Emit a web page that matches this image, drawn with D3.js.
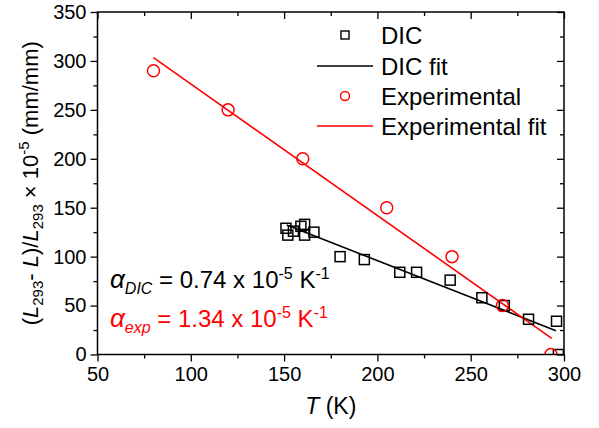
<!DOCTYPE html>
<html><head><meta charset="utf-8">
<script src="https://cdn.jsdelivr.net/npm/d3@7"></script>
<style>body{margin:0;background:#fff}svg{display:block;font-family:Arial,"Liberation Sans",sans-serif}</style>
</head><body><svg id="c" width="599" height="428"></svg>
<script>
// Data
const dicT = [151, 152, 155, 159, 161, 161, 166, 180, 193, 212, 221, 239, 256, 268, 281, 296, 297];
const dicY = [129, 122, 126, 131, 133, 122, 125, 100, 97, 84, 84, 76, 58, 50, 36, 34, 0];
const expT = [80, 120, 160, 205, 240, 267, 293];
const expY = [290, 250, 200, 150, 100, 50, 0];
const dicFitT = [151.4, 295.7];
const dicFitY = [132.3, 24.3];
const expFitT = [80, 293.4];
const expFitY = [303.3, 16.5];
const xTicks = [50, 100, 150, 200, 250, 300];
const yTicks = [0, 50, 100, 150, 200, 250, 300, 350];
const legendLabels = ["DIC", "DIC fit", "Experimental", "Experimental fit"];

const svg = d3.select("#c");
const L = 97.5, R = 564, T = 12, B = 354.5;
const x = d3.scaleLinear().domain([50, 300]).range([L, R]);
const y = d3.scaleLinear().domain([0, 350]).range([B, T]);
const RED = "#ff0000";

// clip
svg.append("defs").append("clipPath").attr("id", "pc")
  .append("rect").attr("x", L).attr("y", T).attr("width", R - L).attr("height", B - T);

const minorX = d3.range(75, 300, 50), minorY = d3.range(25, 350, 50);
function styleAxis(g) {
  g.select(".domain").remove();
  g.selectAll("line").attr("stroke", "#000").attr("stroke-width", 1.3);
  g.selectAll("text").attr("font-size", 20).attr("fill", "#000").attr("font-family", "Arial, 'Liberation Sans', sans-serif");
}
// bottom
svg.append("g").attr("transform", `translate(0,${B})`)
  .call(d3.axisBottom(x).tickValues(xTicks).tickSize(7).tickPadding(5).tickFormat(d3.format("d"))).call(styleAxis);
svg.append("g").attr("transform", `translate(0,${B})`)
  .call(d3.axisBottom(x).tickValues(minorX).tickSize(4).tickFormat("")).call(styleAxis);
// left
svg.append("g").attr("transform", `translate(${L},0)`)
  .call(d3.axisLeft(y).tickValues(yTicks).tickSize(7).tickPadding(4).tickFormat(d3.format("d"))).call(styleAxis);
svg.append("g").attr("transform", `translate(${L},0)`)
  .call(d3.axisLeft(y).tickValues(minorY).tickSize(4).tickFormat("")).call(styleAxis);
// top (inward)
svg.append("g").attr("transform", `translate(0,${T})`)
  .call(d3.axisTop(x).tickValues(xTicks).tickSize(-7).tickFormat("")).call(styleAxis);
svg.append("g").attr("transform", `translate(0,${T})`)
  .call(d3.axisTop(x).tickValues(minorX).tickSize(-4).tickFormat("")).call(styleAxis);
// right (inward)
svg.append("g").attr("transform", `translate(${R},0)`)
  .call(d3.axisRight(y).tickValues(yTicks).tickSize(-7).tickFormat("")).call(styleAxis);
svg.append("g").attr("transform", `translate(${R},0)`)
  .call(d3.axisRight(y).tickValues(minorY).tickSize(-4).tickFormat("")).call(styleAxis);

const plot = svg.append("g").attr("clip-path", "url(#pc)");
const line = d3.line().x(d => x(d[0])).y(d => y(d[1]));
plot.append("path").datum(dicFitT.map((t, i) => [t, dicFitY[i]]))
  .attr("d", line).attr("fill", "none").attr("stroke", "#000").attr("stroke-width", 1.6);
plot.append("path").datum(expFitT.map((t, i) => [t, expFitY[i]]))
  .attr("d", line).attr("fill", "none").attr("stroke", RED).attr("stroke-width", 1.6);
const S = 10;
plot.selectAll("rect.dic").data(dicT.map((t, i) => [t, dicY[i]])).join("rect")
  .attr("x", d => x(d[0]) - S / 2).attr("y", d => y(d[1]) - S / 2).attr("width", S).attr("height", S)
  .attr("fill", "none").attr("stroke", "#000").attr("stroke-width", 1.5);
plot.selectAll("circle.exp").data(expT.map((t, i) => [t, expY[i]])).join("circle")
  .attr("cx", d => x(d[0])).attr("cy", d => y(d[1])).attr("r", 6)
  .attr("fill", "none").attr("stroke", RED).attr("stroke-width", 1.5);

// frame
svg.append("rect").attr("x", L).attr("y", T).attr("width", R - L).attr("height", B - T)
  .attr("fill", "none").attr("stroke", "#000").attr("stroke-width", 1.5);

// legend
const ly = [35, 66, 96, 126], lx = 345, ltx = 381;
const lg = svg.append("g");
lg.append("rect").attr("x", lx - 4).attr("y", ly[0] - 4).attr("width", 8).attr("height", 8)
  .attr("fill", "none").attr("stroke", "#000").attr("stroke-width", 1.4);
lg.append("line").attr("x1", 317).attr("x2", 373).attr("y1", ly[1]).attr("y2", ly[1]).attr("stroke", "#000").attr("stroke-width", 1.6);
lg.append("circle").attr("cx", lx).attr("cy", ly[2]).attr("r", 4.5).attr("fill", "none").attr("stroke", RED).attr("stroke-width", 1.4);
lg.append("line").attr("x1", 317).attr("x2", 373).attr("y1", ly[3]).attr("y2", ly[3]).attr("stroke", RED).attr("stroke-width", 1.6);
legendLabels.forEach((t, i) => {
  lg.append("text").attr("x", ltx).attr("y", ly[i] + 8.5).attr("font-size", 24).attr("fill", "#000").text(t);
});

// annotations
function annot(yb, sub, val, color) {
  const t = svg.append("text").attr("x", 110).attr("y", yb).attr("font-size", 24).attr("fill", color);
  t.append("tspan").attr("font-style", "italic").attr("font-size", 26).text("α");
  t.append("tspan").attr("font-style", "italic").attr("font-size", 16).attr("dy", 6).text(sub);
  t.append("tspan").attr("dy", -6).text(" = " + val + " x 10");
  t.append("tspan").attr("font-size", 16).attr("dy", -9).text("-5");
  t.append("tspan").attr("dy", 9).text(" K");
  t.append("tspan").attr("font-size", 16).attr("dy", -9).text("-1");
}
annot(288, "DIC", "0.74", "#000");
annot(327, "exp", "1.34", RED);

// x title
const xt = svg.append("text").attr("x", (L + R) / 2).attr("y", 414).attr("text-anchor", "middle").attr("font-size", 23);
xt.append("tspan").attr("font-style", "italic").text("T");
xt.append("tspan").text(" (K)");

// y title
const yt = svg.append("text").attr("transform", `translate(38,${(T + B) / 2}) rotate(-90)`)
  .attr("text-anchor", "middle").attr("font-size", 22);
yt.append("tspan").text("(");
yt.append("tspan").attr("font-style", "italic").text("L");
yt.append("tspan").attr("font-size", 15).attr("dy", 5).text("293");
yt.append("tspan").attr("dy", -5).text("- ");
yt.append("tspan").attr("font-style", "italic").text("L");
yt.append("tspan").text(")/");
yt.append("tspan").attr("font-style", "italic").text("L");
yt.append("tspan").attr("font-size", 15).attr("dy", 5).text("293");
yt.append("tspan").attr("dy", -5).text(" × 10");
yt.append("tspan").attr("font-size", 15).attr("dy", -9).text("-5");
yt.append("tspan").attr("dy", 9).text(" (mm/mm)");
</script></body></html>
